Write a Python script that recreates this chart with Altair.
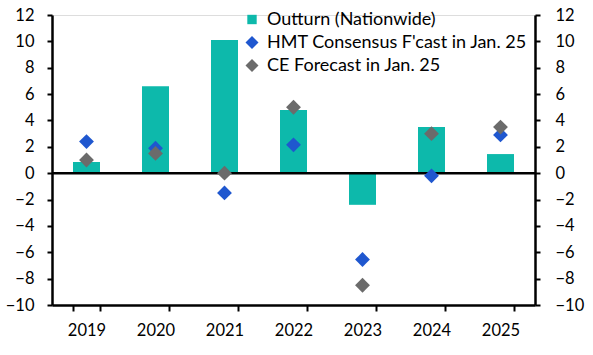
import altair as alt
import pandas as pd

years = ["2019", "2020", "2021", "2022", "2023", "2024", "2025"]
outturn = [0.85, 6.6, 10.1, 4.8, -2.4, 3.5, 1.45]
hmt = [2.4, 1.9, -1.5, 2.15, -6.55, -0.2, 2.9]
ce = [1.0, 1.5, 0.0, 5.0, -8.5, 3.0, 3.5]

series_names = ["Outturn (Nationwide)", "HMT Consensus F'cast in  Jan. 25", "CE Forecast in  Jan. 25"]
series_colors = ["#0DB9AB", "#1F57CF", "#6B6B6B"]
y_ticks = list(range(-10, 13, 2))

bars_df = pd.DataFrame({"year": years, "value": outturn, "series": series_names[0]})
pts_df = pd.concat([
    pd.DataFrame({"year": years, "value": hmt, "series": series_names[1], "order": 1}),
    pd.DataFrame({"year": years, "value": ce, "series": series_names[2], "order": 2}),
])
zero_df = pd.DataFrame({"value": [0]})

FONT = "Lato"
axis_style = dict(domainColor="black", domainWidth=2.5, tickColor="black", tickWidth=2,
                  labelColor="black", labelFont=FONT, grid=False, labelFontSize=16.5, title=None)

x_axis = alt.Axis(labelAngle=0, tickBand="extent", labelPadding=11, tickSize=6, **axis_style)
x_scale = alt.Scale(paddingInner=0.6, paddingOuter=0.3)
y_scale = alt.Scale(domain=[-10, 12], nice=False, zero=False)

legend = alt.Legend(title=None, orient="none", legendX=191, legendY=-4.5,
                    labelFontSize=18, rowPadding=5, labelColor="black", labelLimit=0,
                    symbolSize=170, labelOffset=6, symbolStrokeWidth=0, labelFont=FONT)
color_scale = alt.Scale(domain=series_names, range=series_colors)
small_square = "M-0.72,-0.72L0.72,-0.72L0.72,0.72L-0.72,0.72Z"
shape_scale = alt.Scale(domain=series_names, range=[small_square, "diamond", "diamond"])

bars = alt.Chart(bars_df).mark_bar(size=27).encode(
    x=alt.X("year:N", sort=years, axis=x_axis, scale=x_scale),
    y=alt.Y("value:Q", scale=y_scale,
            axis=alt.Axis(values=y_ticks, orient="left", tickSize=5, labelPadding=13, **axis_style)),
    color=alt.Color("series:N", scale=color_scale, legend=legend),
)

zero = alt.Chart(zero_df).mark_rule(color="black", strokeWidth=2.5).encode(
    y=alt.Y("value:Q", scale=y_scale,
            axis=alt.Axis(values=y_ticks, orient="right", tickSize=5, labelPadding=15, **axis_style)),
)

points = alt.Chart(pts_df).mark_point(filled=True, opacity=1, size=220).encode(
    x=alt.X("year:N", sort=years, axis=x_axis, scale=x_scale),
    y=alt.Y("value:Q", scale=y_scale, axis=None),
    color=alt.Color("series:N", scale=color_scale, legend=legend),
    shape=alt.Shape("series:N", scale=shape_scale, legend=legend),
    order=alt.Order("order:Q"),
)

chart = alt.layer(bars, zero, points).resolve_axis(y="independent").properties(
    width=483, height=290,
    autosize=alt.AutoSizeParams(type="none"),
    padding={"left": 52, "top": 15, "right": 58, "bottom": 50},
).configure_view(stroke=None).configure(font=FONT)

chart.save("out.html", embed_options={"renderer": "svg", "actions": False})
